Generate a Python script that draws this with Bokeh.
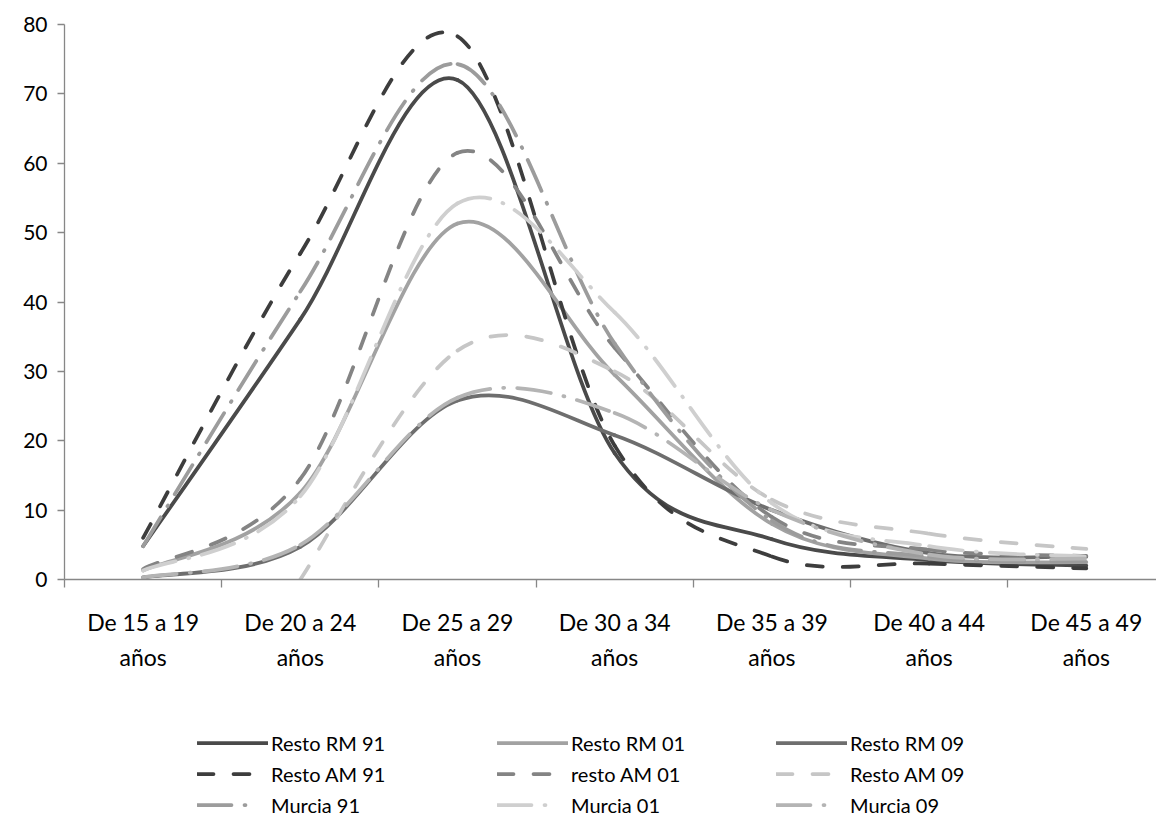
from bokeh.plotting import figure
from bokeh.layouts import column
from bokeh.models import (ColumnDataSource, FixedTicker, Legend, LegendItem,
                          Range1d, LinearAxis)
from bokeh.embed import file_html
from bokeh.resources import INLINE

# ---------------- data ----------------
categories = ["De 15 a 19 años", "De 20 a 24 años", "De 25 a 29 años",
              "De 30 a 34 años", "De 35 a 39 años", "De 40 a 44 años",
              "De 45 a 49 años"]
tick_labels = ["De 15 a 19\naños", "De 20 a 24\naños", "De 25 a 29\naños",
               "De 30 a 34\naños", "De 35 a 39\naños", "De 40 a 44\naños",
               "De 45 a 49\naños"]
y_ticks = [0, 10, 20, 30, 40, 50, 60, 70, 80]

resto_rm_91 = [4.8, 37.5, 72.0, 18.2, 5.8, 2.8, 2.0]
resto_rm_01 = [1.3, 12.5, 51.3, 29.5, 8.0, 3.0, 2.5]
resto_rm_09 = [0.3, 4.7, 25.8, 20.8, 10.0, 3.8, 3.3]
resto_am_91 = [6.0, 47.0, 78.3, 19.3, 3.3, 2.3, 1.6]
resto_am_01 = [1.5, 14.5, 61.5, 33.4, 9.0, 4.3, 3.4]
resto_am_09 = [None, 0.0, 33.0, 30.0, 11.5, 6.6, 4.4]
murcia_91 = [4.8, 41.5, 74.3, 34.0, 8.5, 3.3, 2.6]
murcia_01 = [1.3, 12.0, 54.2, 38.5, 11.0, 4.8, 3.3]
murcia_09 = [0.3, 5.0, 26.2, 24.0, 10.0, 3.6, 3.0]

series_names = ["Resto RM 91", "Resto RM 01", "Resto RM 09",
                "Resto AM 91", "resto AM 01", "Resto AM 09",
                "Murcia 91", "Murcia 01", "Murcia 09"]
series_values = [resto_rm_91, resto_rm_01, resto_rm_09,
                 resto_am_91, resto_am_01, resto_am_09,
                 murcia_91, murcia_01, murcia_09]

# ---------------- styles ----------------
colors = ["#4a4a4a", "#a2a2a2", "#6e6e6e",
          "#3d3d3d", "#848484", "#c6c6c6",
          "#9c9c9c", "#cfcfcf", "#b4b4b4"]
DASH = "16 20"
DASHDOT = "34 13 1 13"
DASHDOT_KEY = "34 13 1 40"
dashes = ["solid", "solid", "solid", DASH, DASH, DASH, DASHDOT, DASHDOT, DASHDOT]
key_dashes = ["solid", "solid", "solid", DASH, DASH, DASH,
              DASHDOT_KEY, DASHDOT_KEY, DASHDOT_KEY]
LW = 3.75
FONT = "Lato"
GRID = "#878787"

W = 1156
H1 = 700
H2 = 117
FRAME_LEFT = 64
FRAME_TOP = 24
FRAME_BOTTOM = 579
CAT_PX = 157.2

x_end = -0.5 + (W - FRAME_LEFT) / CAT_PX

p = figure(width=W, height=H1, output_backend="svg", toolbar_location=None,
           x_range=Range1d(-0.5, x_end), y_range=Range1d(0, 80),
           x_axis_type=None, y_axis_type=None,
           min_border_left=FRAME_LEFT, min_border_right=0,
           min_border_top=FRAME_TOP, min_border_bottom=H1 - FRAME_BOTTOM)
p.outline_line_color = None
p.background_fill_color = "white"
p.border_fill_color = "white"

# y axis
yaxis = LinearAxis(ticker=FixedTicker(ticks=y_ticks, minor_ticks=[]))
yaxis.axis_line_color = GRID
yaxis.axis_line_width = 1.3
yaxis.major_tick_line_color = GRID
yaxis.major_tick_line_width = 1.3
yaxis.major_tick_out = 7
yaxis.major_tick_in = 0
yaxis.minor_tick_line_color = None
yaxis.major_label_standoff = 10
yaxis.major_label_text_font = FONT
yaxis.major_label_text_font_size = "21px"
yaxis.major_label_text_color = "black"
p.add_layout(yaxis, "left")

# x axis: labels at category centres, ticks at boundaries
xaxis = LinearAxis(ticker=FixedTicker(ticks=list(range(len(categories))),
                                      minor_ticks=[i - 0.5 for i in range(len(categories) + 1)]))
xaxis.major_label_overrides = {i: t for i, t in enumerate(tick_labels)}
xaxis.axis_line_color = GRID
xaxis.axis_line_width = 1.3
xaxis.major_tick_line_color = None
xaxis.major_tick_out = 0
xaxis.major_tick_in = 0
xaxis.minor_tick_line_color = GRID
xaxis.minor_tick_line_width = 1.3
xaxis.minor_tick_out = 8
xaxis.minor_tick_in = 0
xaxis.major_label_standoff = 20
xaxis.major_label_text_font = FONT
xaxis.major_label_text_font_size = "23px"
xaxis.major_label_text_color = "black"
xaxis.major_label_text_line_height = 1.27
p.add_layout(xaxis, "below")

p.ygrid.ticker = FixedTicker(ticks=y_ticks)
p.ygrid.grid_line_color = GRID
p.ygrid.grid_line_width = 1.3
p.xgrid.grid_line_color = None


def smooth_segments(vals):
    """Excel-like smoothed line: cubic Bezier pieces through the data points."""
    n = len(vals)
    d = dict(x0=[], y0=[], x1=[], y1=[], cx0=[], cy0=[], cx1=[], cy1=[])
    for i in range(n - 1):
        if vals[i] is None or vals[i + 1] is None:
            continue
        ip = i - 1 if (i > 0 and vals[i - 1] is not None) else i
        inn = i + 2 if (i + 2 < n and vals[i + 2] is not None) else i + 1
        d["x0"].append(i)
        d["y0"].append(vals[i])
        d["x1"].append(i + 1)
        d["y1"].append(vals[i + 1])
        d["cx0"].append(i + (i + 1 - ip) / 6.0)
        d["cy0"].append(vals[i] + (vals[i + 1] - vals[ip]) / 6.0)
        d["cx1"].append(i + 1 - (inn - i) / 6.0)
        d["cy1"].append(vals[i + 1] - (vals[inn] - vals[i]) / 6.0)
    return d


for name, vals, col, dash in zip(series_names, series_values, colors, dashes):
    p.bezier(x0="x0", y0="y0", x1="x1", y1="y1", cx0="cx0", cy0="cy0",
             cx1="cx1", cy1="cy1", source=ColumnDataSource(smooth_segments(vals)),
             line_color=col, line_width=LW, line_dash=dash, line_cap="round")

# ---------------- legend (separate strip below the chart) ----------------
lp = figure(width=W, height=H2, output_backend="svg", toolbar_location=None,
            x_range=Range1d(0, 1), y_range=Range1d(0, 1),
            x_axis_type=None, y_axis_type=None,
            min_border_left=FRAME_LEFT, min_border_right=0, min_border_top=0,
            min_border_bottom=0)
lp.outline_line_color = None
lp.xgrid.grid_line_color = None
lp.ygrid.grid_line_color = None
lp.background_fill_color = "white"
lp.border_fill_color = "white"

nan = float("nan")
proxies = []
for col, dash in zip(colors, key_dashes):
    proxies.append(lp.line(x=[nan], y=[nan], line_color=col, line_width=LW,
                           line_dash=dash, line_cap="round"))

col_x = [197 - FRAME_LEFT, 497 - FRAME_LEFT, 776 - FRAME_LEFT]
for c in range(3):
    items = [LegendItem(label=series_names[c + 3 * r], renderers=[proxies[c + 3 * r]])
             for r in range(3)]
    lg = Legend(items=items, location=(col_x[c], 0),
                orientation="vertical", glyph_width=71, glyph_height=25,
                label_height=25, label_standoff=3, spacing=6, padding=0,
                margin=0, border_line_color=None, background_fill_alpha=0,
                label_text_font=FONT, label_text_font_size="20px",
                label_text_color="black")
    lp.add_layout(lg)

layout = column(p, lp, spacing=0)
open("out.html", "w").write(file_html(layout, INLINE))
